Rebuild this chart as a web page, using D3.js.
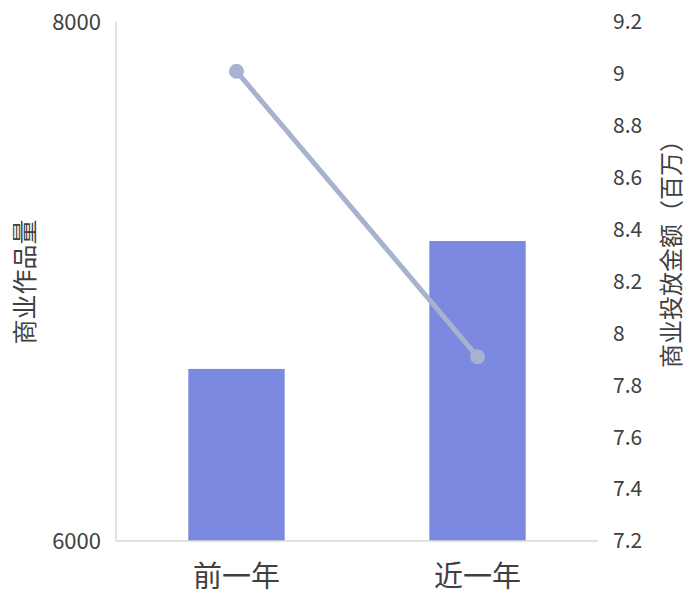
<!DOCTYPE html>
<html><head><meta charset="utf-8">
<script src="https://cdn.jsdelivr.net/npm/d3@7"></script>
<style>body{margin:0;background:#fff}svg{display:block}text{font-family:"Noto Sans CJK SC","Noto Sans",sans-serif;fill:#404040}</style>
</head><body>
<svg id="c" width="687" height="594"></svg>
<script>
const categories = ["前一年", "近一年"];
const worksCount = [6663, 7156];
const adSpend = [9.01, 7.91];
const leftTicks = [6000, 8000];
const rightTicks = [7.2, 7.4, 7.6, 7.8, 8, 8.2, 8.4, 8.6, 8.8, 9, 9.2];
const leftTitle = "商业作品量";
const rightTitle = "商业投放金额（百万）";

const svg = d3.select("#c");
const L = 116, R = 598, T = 22, B = 541;
const x = d3.scaleBand().domain(categories).range([L, R]);
const yL = d3.scaleLinear().domain([6000, 8000]).range([B, T]);
const yR = d3.scaleLinear().domain([7.2, 9.2]).range([B, T]);
const bw = x.bandwidth() * 0.4;

svg.append("line").attr("x1", L).attr("x2", L).attr("y1", T).attr("y2", B).attr("stroke", "#d9d9d9").attr("stroke-width", 1.5);

svg.selectAll("rect.bar").data(categories).enter().append("rect")
  .attr("x", d => x(d) + x.bandwidth() / 2 - bw / 2)
  .attr("width", bw)
  .attr("y", (d, i) => yL(worksCount[i]))
  .attr("height", (d, i) => B - yL(worksCount[i]))
  .attr("fill", "#7b8ae0");

svg.append("line").attr("x1", L).attr("x2", R).attr("y1", B).attr("y2", B).attr("stroke", "#d9d9d9").attr("stroke-width", 1.5);

const line = d3.line().x((d, i) => x(categories[i]) + x.bandwidth() / 2).y(d => yR(d));
svg.append("path").datum(adSpend).attr("d", line).attr("fill", "none").attr("stroke", "#a7b2ce").attr("stroke-width", 5);
svg.selectAll("circle.pt").data(adSpend).enter().append("circle")
  .attr("cx", (d, i) => x(categories[i]) + x.bandwidth() / 2)
  .attr("cy", d => yR(d)).attr("r", 7.5).attr("fill", "#a7b2ce");

svg.selectAll("text.lt").data(leftTicks).enter().append("text")
  .attr("x", 101).attr("y", d => yL(d)).attr("dy", "0.35em")
  .attr("text-anchor", "end").attr("font-size", 22).text(d => d);

svg.selectAll("text.rt").data(rightTicks).enter().append("text")
  .attr("x", 613).attr("y", d => yR(d)).attr("dy", "0.35em")
  .attr("text-anchor", "start").attr("font-size", 21).text(d => d);

svg.selectAll("text.cat").data(categories).enter().append("text")
  .attr("x", d => x(d) + x.bandwidth() / 2).attr("y", 577).attr("dy", "0.35em")
  .attr("text-anchor", "middle").attr("font-size", 29).text(d => d);

svg.append("text").attr("transform", "translate(25,282) rotate(-90)")
  .attr("text-anchor", "middle").attr("dy", "0.35em").attr("font-size", 25).text(leftTitle);
svg.append("text").attr("transform", "translate(672,248) rotate(-90)")
  .attr("text-anchor", "middle").attr("dy", "0.35em").attr("font-size", 24).text(rightTitle);
</script>
</body></html>
